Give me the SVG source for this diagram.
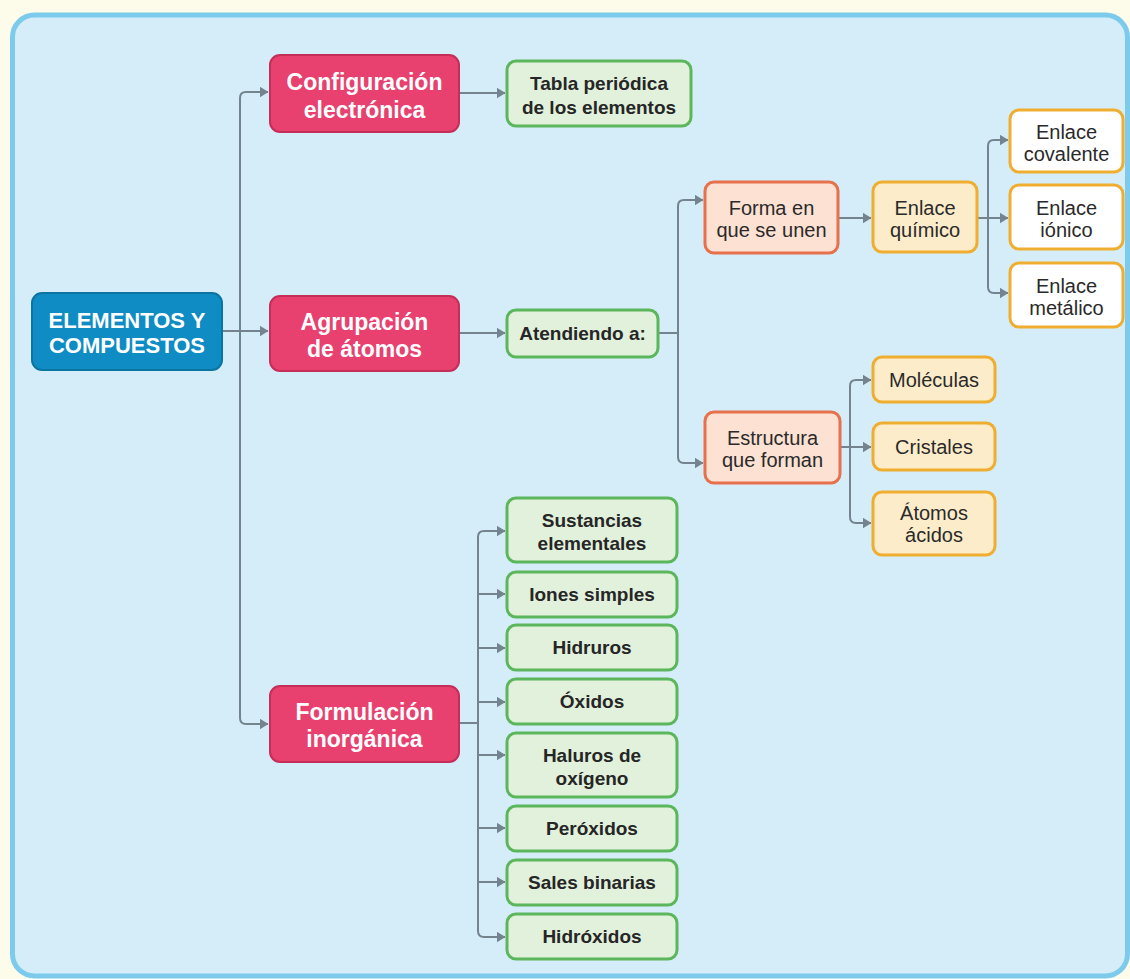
<svg xmlns="http://www.w3.org/2000/svg" width="1130" height="979" viewBox="0 0 1130 979">
  <style>
    text { font-family: "Liberation Sans", Arial, sans-serif; text-anchor: middle; }
    .root rect { fill: #0e8cc3; stroke: #0b74a3; stroke-width: 2; }
    .root text { fill: #ffffff; font-weight: bold; font-size: 22px; }
    .main rect { fill: #e8416f; stroke: #c52e59; stroke-width: 2; }
    .main text { fill: #ffffff; font-weight: bold; font-size: 23px; }
    .green rect { fill: #e2f1dc; stroke: #5cb65c; stroke-width: 3; }
    .green text { fill: #262626; font-weight: bold; font-size: 19px; }
    .salmon rect { fill: #fde1d2; stroke: #e7714d; stroke-width: 3; }
    .amber rect { fill: #fdecc9; stroke: #f0ae30; stroke-width: 3; }
    .white rect { fill: #ffffff; stroke: #f0ae30; stroke-width: 3; }
    .salmon text, .amber text, .white text { fill: #2a2a2a; font-size: 20px; }
    .conn path { fill: none; stroke: #74848f; stroke-width: 2; }
    .conn path.arrow { marker-end: url(#arrowhead); }
  </style>
  <defs>
    <marker id="arrowhead" markerUnits="userSpaceOnUse" markerWidth="9" markerHeight="11" refX="8.5" refY="5.5" orient="auto">
      <path d="M0,0 L9,5.5 L0,11 z" fill="#74848f"/>
    </marker>
  </defs>

  <!-- page background and frame -->
  <rect x="0" y="0" width="1130" height="979" fill="#fdfbe9"/>
  <rect x="12.5" y="15" width="1115" height="961" rx="22" fill="#d4edf9" stroke="#7ccbec" stroke-width="5"/>

  <!-- connectors -->
  <g id="connectors" class="conn">
    <!-- root to level one -->
    <path class="arrow" d="M222 331 H268"/>
    <path class="arrow" d="M240 331 V98 Q240 92 246 92 H268"/>
    <path class="arrow" d="M240 331 V718 Q240 724 246 724 H268"/>
    <!-- configuracion -->
    <path class="arrow" d="M459 93 H505"/>
    <!-- agrupacion -->
    <path class="arrow" d="M459 333 H505"/>
    <path d="M658 333 H678"/>
    <path class="arrow" d="M678 333 V206 Q678 200 684 200 H703"/>
    <path class="arrow" d="M678 333 V457 Q678 463 684 463 H703"/>
    <path class="arrow" d="M838 218 H871"/>
    <path class="arrow" d="M977 218 H1008"/>
    <path class="arrow" d="M988 218 V146 Q988 140 994 140 H1008"/>
    <path class="arrow" d="M988 218 V287 Q988 293 994 293 H1008"/>
    <path class="arrow" d="M840 447 H871"/>
    <path class="arrow" d="M850 447 V386 Q850 380 856 380 H871"/>
    <path class="arrow" d="M850 447 V517 Q850 523 856 523 H871"/>
    <!-- formulacion -->
    <path d="M459 723 H478"/>
    <path class="arrow" d="M478 723 V537 Q478 531 484 531 H505"/>
    <path class="arrow" d="M478 723 V931 Q478 937 484 937 H505"/>
    <path class="arrow" d="M478 594 H505"/>
    <path class="arrow" d="M478 648 H505"/>
    <path class="arrow" d="M478 702 H505"/>
    <path class="arrow" d="M478 755 H505"/>
    <path class="arrow" d="M478 828 H505"/>
    <path class="arrow" d="M478 882 H505"/>
  </g>

  <!-- root -->
  <g id="elementos-compuestos" class="root">
    <rect x="32" y="293" width="190" height="77" rx="10"/>
    <text x="127" y="328">ELEMENTOS Y</text>
    <text x="127" y="353">COMPUESTOS</text>
  </g>

  <!-- level one -->
  <g id="configuracion" class="main">
    <rect x="270" y="55" width="189" height="77" rx="10"/>
    <text x="364.5" y="90">Configuración</text>
    <text x="364.5" y="118">electrónica</text>
  </g>
  <g id="agrupacion" class="main">
    <rect x="270" y="296" width="189" height="75" rx="10"/>
    <text x="364.5" y="330">Agrupación</text>
    <text x="364.5" y="357">de átomos</text>
  </g>
  <g id="formulacion" class="main">
    <rect x="270" y="686" width="189" height="76" rx="10"/>
    <text x="364.5" y="720">Formulación</text>
    <text x="364.5" y="747">inorgánica</text>
  </g>

  <!-- configuracion branch -->
  <g id="tabla-periodica" class="green">
    <rect x="507" y="61" width="184" height="65" rx="9"/>
    <text x="599" y="90">Tabla periódica</text>
    <text x="599" y="114">de los elementos</text>
  </g>

  <!-- agrupacion branch -->
  <g id="atendiendo" class="green">
    <rect x="507" y="310" width="151" height="47" rx="9"/>
    <text x="582.5" y="340">Atendiendo a:</text>
  </g>
  <g id="forma-union" class="salmon">
    <rect x="705" y="182" width="133" height="71" rx="9"/>
    <text x="771.5" y="215">Forma en</text>
    <text x="771.5" y="237">que se unen</text>
  </g>
  <g id="enlace-quimico" class="amber">
    <rect x="873" y="182" width="104" height="70" rx="9"/>
    <text x="925" y="215">Enlace</text>
    <text x="925" y="237">químico</text>
  </g>
  <g id="enlace-covalente" class="white">
    <rect x="1010" y="110" width="113" height="62" rx="9"/>
    <text x="1066.5" y="139">Enlace</text>
    <text x="1066.5" y="161">covalente</text>
  </g>
  <g id="enlace-ionico" class="white">
    <rect x="1010" y="185" width="113" height="64" rx="9"/>
    <text x="1066.5" y="215">Enlace</text>
    <text x="1066.5" y="237">iónico</text>
  </g>
  <g id="enlace-metalico" class="white">
    <rect x="1010" y="263" width="113" height="64" rx="9"/>
    <text x="1066.5" y="293">Enlace</text>
    <text x="1066.5" y="315">metálico</text>
  </g>
  <g id="estructura" class="salmon">
    <rect x="705" y="412" width="135" height="71" rx="9"/>
    <text x="772.5" y="445">Estructura</text>
    <text x="772.5" y="467">que forman</text>
  </g>
  <g id="moleculas" class="amber">
    <rect x="873" y="357" width="122" height="45" rx="9"/>
    <text x="934" y="387">Moléculas</text>
  </g>
  <g id="cristales" class="amber">
    <rect x="873" y="423" width="122" height="47" rx="9"/>
    <text x="934" y="454">Cristales</text>
  </g>
  <g id="atomos-acidos" class="amber">
    <rect x="873" y="492" width="122" height="63" rx="9"/>
    <text x="934" y="520">Átomos</text>
    <text x="934" y="542">ácidos</text>
  </g>

  <!-- formulacion branch -->
  <g id="sustancias-elementales" class="green">
    <rect x="507" y="498" width="170" height="64" rx="9"/>
    <text x="592" y="527">Sustancias</text>
    <text x="592" y="550">elementales</text>
  </g>
  <g id="iones-simples" class="green">
    <rect x="507" y="572" width="170" height="45" rx="9"/>
    <text x="592" y="601">Iones simples</text>
  </g>
  <g id="hidruros" class="green">
    <rect x="507" y="625" width="170" height="45" rx="9"/>
    <text x="592" y="654">Hidruros</text>
  </g>
  <g id="oxidos" class="green">
    <rect x="507" y="679" width="170" height="45" rx="9"/>
    <text x="592" y="708">Óxidos</text>
  </g>
  <g id="haluros-oxigeno" class="green">
    <rect x="507" y="733" width="170" height="64" rx="9"/>
    <text x="592" y="762">Haluros de</text>
    <text x="592" y="785">oxígeno</text>
  </g>
  <g id="peroxidos" class="green">
    <rect x="507" y="806" width="170" height="45" rx="9"/>
    <text x="592" y="835">Peróxidos</text>
  </g>
  <g id="sales-binarias" class="green">
    <rect x="507" y="860" width="170" height="45" rx="9"/>
    <text x="592" y="889">Sales binarias</text>
  </g>
  <g id="hidroxidos" class="green">
    <rect x="507" y="914" width="170" height="45" rx="9"/>
    <text x="592" y="943">Hidróxidos</text>
  </g>
</svg>
